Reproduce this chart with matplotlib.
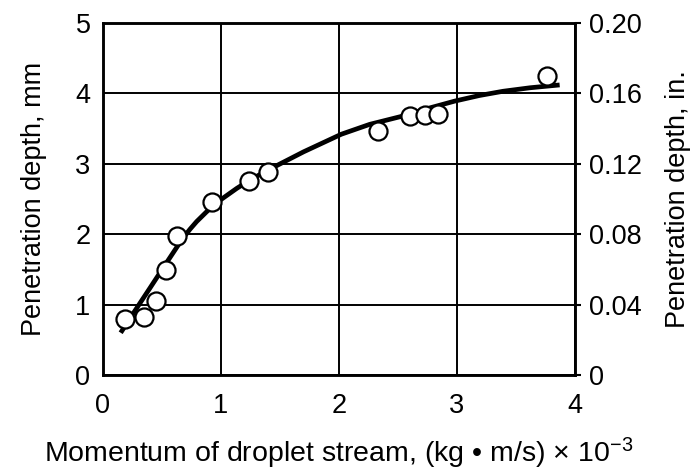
import matplotlib
matplotlib.use("Agg")
import matplotlib.pyplot as plt

plt.rcParams['font.family'] = ['Liberation Sans', 'DejaVu Sans']
plt.rcParams['mathtext.fontset'] = 'custom'
plt.rcParams['mathtext.rm'] = 'Liberation Sans'
plt.rcParams['mathtext.it'] = 'Liberation Sans'

# measured points
momentum = [0.19, 0.35, 0.45, 0.53, 0.63, 0.92, 1.24, 1.40, 2.33, 2.60, 2.73, 2.84, 3.76]
depth_mm = [0.80, 0.82, 1.05, 1.49, 1.98, 2.46, 2.76, 2.88, 3.46, 3.68, 3.69, 3.71, 4.25]

# fitted curve
curve_x = [0.15, 0.27, 0.40, 0.525, 0.596, 0.667, 0.737, 0.794, 0.879, 0.99, 1.133,
           1.246, 1.387, 1.45, 1.70, 2.02, 2.26, 2.545, 2.74, 2.98, 3.19, 3.39, 3.62, 3.87]
curve_y = [0.60, 0.91, 1.24, 1.56, 1.74, 1.92, 2.07, 2.18, 2.32, 2.48, 2.65,
           2.77, 2.90, 2.955, 3.17, 3.42, 3.56, 3.68, 3.78, 3.89, 3.97, 4.03, 4.08, 4.12]

x_ticks = [0, 1, 2, 3, 4]
y_ticks = [0, 1, 2, 3, 4, 5]
in_ticks = [0, 0.04, 0.08, 0.12, 0.16, 0.20]
in_labels = ['0', '0.04', '0.08', '0.12', '0.16', '0.20']

fs = 19.5

fig = plt.figure(figsize=(6.94, 4.71), dpi=100)
ax = fig.add_axes([0.1484, 0.2038, 0.6801, 0.7474])

ax.set_xlim(0, 4)
ax.set_ylim(0, 5)
ax.set_xticks(x_ticks)
ax.set_yticks(y_ticks)
ax.grid(True, color='black', linewidth=1.4)
ax.set_axisbelow(True)
for s in ax.spines.values():
    s.set_linewidth(1.8)

ax.plot(curve_x, curve_y, color='black', linewidth=3.4, solid_capstyle='butt',
        solid_joinstyle='round', zorder=3)
ax.plot(momentum, depth_mm, linestyle='none', marker='o', markersize=13,
        markerfacecolor='white', markeredgecolor='black', markeredgewidth=1.6, zorder=4)

ax.tick_params(axis='both', length=0, labelsize=fs)
ax.tick_params(axis='x', pad=13)
ax.tick_params(axis='y', pad=9)

ax.set_ylabel('Penetration depth, mm', fontsize=fs, labelpad=20)
ax.set_xlabel('Momentum of droplet stream, (kg • m/s) × 10$^{-3}$', fontsize=20.5, labelpad=12)

ax2 = ax.twinx()
ax2.set_ylim(0, 0.20)
ax2.set_yticks(in_ticks)
ax2.set_yticklabels(in_labels)
ax2.tick_params(axis='y', length=4, width=1.5, labelsize=fs, pad=6)
for s in ax2.spines.values():
    s.set_linewidth(1.8)
ax2.set_ylabel('Penetration depth, in.', fontsize=fs, labelpad=17)

fig.savefig('out.png', dpi=100, facecolor='white')
